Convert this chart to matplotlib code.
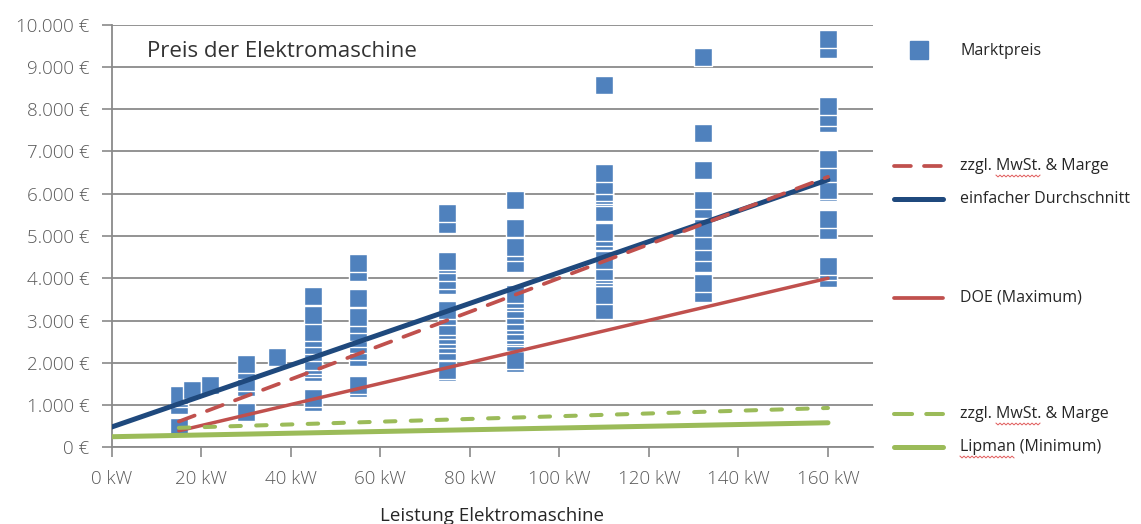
import numpy as np
import matplotlib.pyplot as plt

plt.rcParams['font.family'] = ['Open Sans', 'DejaVu Sans']

# Marktpreise je Leistungsklasse (kW -> Preise in EUR)
leistung = [15, 18, 22, 30, 37, 45, 55, 75, 90, 110, 132, 160]
marktpreis = [
    [1230, 1160, 1000, 470],
    [1350],
    [1480],
    [1980, 1840, 1540, 1420, 830],
    [2130],
    [3590, 3130, 2720, 2580, 2410, 2250, 2030, 1940, 1870, 1770, 1160, 1060],
    [4370, 4140, 3530, 3080, 2910, 2730, 2580, 2440, 2290, 2130, 1470, 1400],
    [5540, 5280, 4400, 4330, 4140, 3960, 3840, 3240, 3110, 2880, 2770, 2650,
     2560, 2440, 2270, 1820, 1770],
    [5850, 5200, 4750, 4610, 4370, 3630, 3520, 3430, 3270, 3120, 2980, 2900,
     2740, 2650, 2600, 2480, 2060, 2000],
    [8570, 6490, 6200, 6040, 5980, 5930, 5570, 5090, 4980, 4880, 4430, 4160,
     4090, 4020, 3610, 3260],
    [9230, 7430, 6560, 5860, 5630, 5190, 4890, 4610, 4370, 3890, 3640],
    [9670, 9430, 8080, 7820, 7670, 6830, 6500, 6080, 6030, 5410, 5130, 4280,
     4180, 4000],
]

# Kennlinien
durchschnitt_kw = [0, 160]
durchschnitt = [480, 6330]
doe_kw = [15, 160]
doe_max = [390, 4000]
doe_marge = [610, 6400]
lipman_kw = [0, 160]
lipman_min = [250, 580]
lipman_marge_kw = [15, 160]
lipman_marge = [460, 930]

yticks = list(range(0, 10001, 1000))
ytick_labels = [f"{v:,}".replace(",", ".") + " €" for v in yticks]
xticks = list(range(0, 161, 20))
xtick_labels = [f"{v} kW" for v in xticks]

blau = '#4f81bd'
dunkelblau = '#1f497d'
rot = '#c0504d'
gruen = '#9bbb59'
grau = '#8a8a8a'
text_grau = '#595959'

fig = plt.figure(figsize=(11.41, 5.24), dpi=100)
ax = fig.add_axes([0.0979, 0.1464, 0.667, 0.8065])

# Punkte aufsteigend zeichnen, damit hoehere Preise oben liegen
punkte = sorted((p, kw) for kw, preise in zip(leistung, marktpreis) for p in preise)
ax.scatter([kw for p, kw in punkte], [p for p, kw in punkte], marker='s', s=155,
           color=blau, edgecolors='white', linewidths=1.0, zorder=3)

ax.plot(durchschnitt_kw, durchschnitt, color=dunkelblau, lw=3.6,
        solid_capstyle='round', zorder=4)
ax.plot(doe_kw, doe_marge, color=rot, lw=2.7, linestyle=(0, (4.5, 3.5)),
        dash_capstyle='round', zorder=5)
ax.plot(doe_kw, doe_max, color=rot, lw=2.5, solid_capstyle='round', zorder=5)
ax.plot(lipman_marge_kw, lipman_marge, color=gruen, lw=2.9,
        linestyle=(0, (2.6, 3.8)), dash_capstyle='round', zorder=5)
ax.plot(lipman_kw, lipman_min, color=gruen, lw=3.6, solid_capstyle='round',
        zorder=5)

ax.set_xlim(0, 170)
ax.set_ylim(0, 10000)
ax.set_xticks(xticks)
ax.set_xticklabels(xtick_labels)
ax.set_yticks(yticks)
ax.set_yticklabels(ytick_labels)
ax.tick_params(axis='both', colors=grau, labelcolor=text_grau, labelsize=13.5,
               length=7, width=1.2, direction='out')
ax.tick_params(axis='y', pad=9)
ax.tick_params(axis='x', pad=9)
for lab in ax.get_xticklabels() + ax.get_yticklabels():
    lab.set_fontweight('light')
ax.grid(axis='y', color=grau, lw=1.3)
ax.set_axisbelow(True)
for s in ['top', 'right']:
    ax.spines[s].set_visible(False)
for s in ['left', 'bottom']:
    ax.spines[s].set_color(grau)
    ax.spines[s].set_linewidth(1.3)

ax.text(0.047, 0.937, 'Preis der Elektromaschine', transform=ax.transAxes,
        fontsize=16, color='#333333', ha='left', va='center')
ax.set_xlabel('Leistung Elektromaschine', fontsize=13.5, color='#262626',
              labelpad=14)

# Legende in Pixelkoordinaten rechts neben dem Diagramm
lg = fig.add_axes([0, 0, 1, 1], zorder=10)
lg.set_xlim(0, 1141)
lg.set_ylim(524, 0)
lg.axis('off')
lg.patch.set_alpha(0)

lg.plot([919], [50], marker='s', markersize=12.5, color=blau, lw=0)
eintraege = [
    (166, rot, 2.7, (0, (4.5, 3.5)), 'zzgl. MwSt. & Marge'),
    (199, dunkelblau, 3.6, '-', 'einfacher Durchschnitt'),
    (298, rot, 2.7, '-', 'DOE (Maximum)'),
    (414, gruen, 2.9, (0, (4.5, 3.5)), 'zzgl. MwSt. & Marge'),
    (447, gruen, 3.6, '-', 'Lipman (Minimum)'),
]
schrift = dict(fontsize=11.5, color='#262626', va='center', ha='left')
for y, farbe, breite, stil, name in eintraege:
    lg.plot([894, 943], [y, y], color=farbe, lw=breite, linestyle=stil,
            solid_capstyle='round', dash_capstyle='round')
    lg.text(960, y, name, **schrift)
lg.text(960, 51, 'Marktpreis', **schrift)

# Rote Wellenlinien der Rechtschreibpruefung unter einzelnen Woertern
fig.canvas.draw()
renderer = fig.canvas.get_renderer()


def breite_px(s):
    t = lg.text(0, 0, s, **schrift)
    w = t.get_window_extent(renderer).width
    t.remove()
    return w


def welle(x0, x1, y):
    xs = np.arange(x0, x1 + 0.1, 2.0)
    ys = y + np.where(np.arange(len(xs)) % 2 == 0, -0.9, 0.9)
    lg.plot(xs, ys, color='#e05a5a', lw=0.7)


for y in (166, 414):
    a = 960 + breite_px('zzgl. ')
    b = 960 + breite_px('zzgl. MwSt.')
    welle(a, b, y + 10)
welle(960, 960 + breite_px('Lipman'), 447 + 10)

fig.savefig('out.png', dpi=100)
